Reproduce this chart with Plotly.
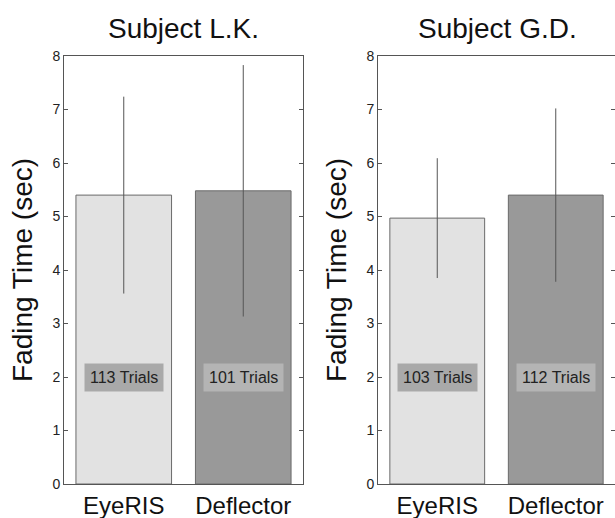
import plotly.graph_objects as go

categories = ["EyeRIS", "Deflector"]
subjects = ["Subject L.K.", "Subject G.D."]
means_lk = [5.40, 5.48]
err_lk = [1.84, 2.35]
means_gd = [4.97, 5.40]
err_gd = [1.12, 1.62]
trials_lk = ["113 Trials", "101 Trials"]
trials_gd = ["103 Trials", "112 Trials"]
label_y = 2.0
y_ticks = [0, 1, 2, 3, 4, 5, 6, 7, 8]

bar_colors = ["#e2e2e2", "#999999"]
label_bg = ["#a9a9a9", "#b4b4b4"]
FONT = "Liberation Sans, Arial, Helvetica, sans-serif"

fig = go.Figure()

panels = [
    (means_lk, err_lk, trials_lk, "x", "y"),
    (means_gd, err_gd, trials_gd, "x2", "y2"),
]
for means, errs, trials, xa, ya in panels:
    fig.add_trace(go.Bar(
        x=[0, 1], y=means, width=0.8,
        marker=dict(color=bar_colors, line=dict(color="#6a6a6a", width=1)),
        error_y=dict(type="data", array=errs, visible=True, color="#555555",
                     thickness=1, width=0),
        xaxis=xa, yaxis=ya, showlegend=False, hoverinfo="skip",
    ))
    for i, t in enumerate(trials):
        fig.add_annotation(
            x=i, y=label_y, xref=xa, yref=ya, text=t, showarrow=False,
            font=dict(family=FONT, size=16, color="#222222"),
            bgcolor=label_bg[i], borderpad=5,
        )

axis_common_x = dict(
    range=[-0.5, 1.5], tickmode="array", tickvals=[0, 1], ticktext=categories,
    ticks="", showline=True, linecolor="#555555", linewidth=1, mirror=True,
    showgrid=False, zeroline=False, tickfont=dict(family=FONT, size=24, color="#111111"),
    fixedrange=True, automargin=False,
)
axis_common_y = dict(
    range=[0, 8], tickmode="array", tickvals=y_ticks,
    ticks="inside", ticklen=4, tickcolor="#555555",
    showline=True, linecolor="#555555", linewidth=1, mirror="ticks",
    showgrid=False, zeroline=False, tickfont=dict(family=FONT, size=14, color="#222222"),
    title=dict(text="Fading Time (sec)", font=dict(family=FONT, size=28, color="#111111"), standoff=11),
    automargin=False,
)

fig.update_layout(
    width=615, height=518,
    margin=dict(l=0, r=0, t=56, b=34),
    paper_bgcolor="white", plot_bgcolor="white",
    bargap=0.2,
    xaxis=dict(domain=[64/615, 303/615], anchor="y", **axis_common_x),
    yaxis=dict(domain=[0, 1], anchor="x", **axis_common_y),
    xaxis2=dict(domain=[378/615, 1.0], anchor="y2", **axis_common_x),
    yaxis2=dict(domain=[0, 1], anchor="x2", **axis_common_y),
)

centers = [(64 + 303) / 2 / 615, (378 + 617) / 2 / 615]
for c, s in zip(centers, subjects):
    fig.add_annotation(x=c, y=1, xref="paper", yref="paper", yshift=10,
                       xanchor="center", yanchor="bottom", text=s, showarrow=False,
                       font=dict(family=FONT, size=28, color="#111111"))

fig.write_html("out.html", config={"displayModeBar": False},
               post_script="document.body.style.margin='0';")
